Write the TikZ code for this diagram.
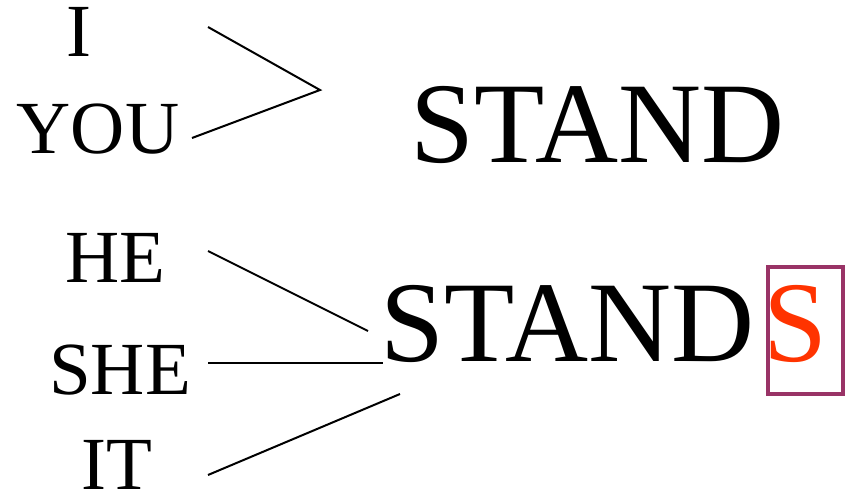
\documentclass[tikz,border=0pt]{standalone}
\usepackage{fontspec}
\setmainfont{Liberation Serif}
\usetikzlibrary{positioning}
\definecolor{suffixred}{HTML}{FF3300}
\definecolor{suffixframe}{HTML}{993366}
\tikzset{pronoun/.style={inner sep=0pt,anchor=base,font=\fontsize{75}{80}\selectfont},
 verb/.style={inner sep=0pt,anchor=base west,font=\fontsize{115}{120}\selectfont},
 suffix/.style={verb,text=suffixred},
 suffixbox/.style={rectangle,draw=suffixframe,line width=4.5pt,
 minimum width=75pt,minimum height=127pt,inner sep=0pt},
 link/.style={draw=black,line width=2pt}}

\begin{document}
\begin{tikzpicture}[x=1pt,y=-1pt]
 \useasboundingbox (0,0) rectangle (847,492);
 % pronouns
 \node[pronoun] (i) at (78.5,57) {I};
 \node[pronoun] (you) at (98,154) {YOU};
 \node[pronoun] (he) at (115,282) {HE};
 \node[pronoun] (she) at (120,394) {SHE};
 \node[pronoun] (it) at (116.5,489) {IT};
 % verbs
 \node[verb] (stand) at (410,163) {STAND};
 \node[verb] (stands) at (380,361) {STAND};
 \node[suffix] (s) at (763,361) {S};
 \node[suffixbox] (sbox) at (805.5,330.5) {};
 % connectors
 \coordinate (iend) at (208,27);
 \coordinate (join) at (320,90);
 \coordinate (youend) at (192,138);
 \coordinate (heA) at (208,251);
 \coordinate (heB) at (368,331);
 \coordinate (sheA) at (208,363);
 \coordinate (sheB) at (383,363);
 \coordinate (itA) at (208,475);
 \coordinate (itB) at (400,394);
 \draw[link] (iend) -- (join) -- (youend);
 \draw[link] (heA) -- (heB);
 \draw[link] (sheA) -- (sheB);
 \draw[link] (itA) -- (itB);
\end{tikzpicture}
\end{document}
